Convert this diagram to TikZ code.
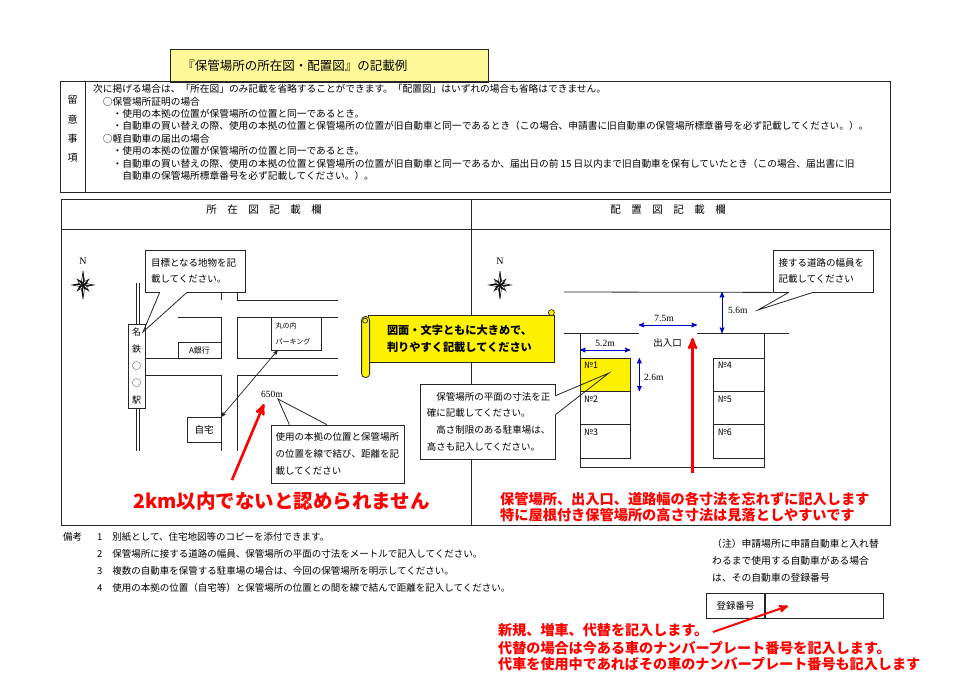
\documentclass[tikz,border=0pt]{standalone}
\usepackage{fontspec}
\setmainfont{Noto Sans CJK JP}
\newfontfamily\romfont{Liberation Serif}
\usetikzlibrary{positioning,calc,arrows}

% star for the north mark
\newcommand{\compassrose}[1]{%
  \begin{scope}[shift={#1}]
    \foreach \dir/\spike in {90/14,270/14,0/11,180/11,45/8,135/8,225/8,315/8}{
      \filldraw[fill=black,line width=0.35pt] (0,0) -- (\dir:\spike) -- (\dir+30:3.4) -- cycle;
      \filldraw[fill=white,line width=0.35pt] (0,0) -- (\dir:\spike) -- (\dir-30:3.4) -- cycle;
    }
  \end{scope}}

% pointer of a callout box: base points, tip
\newcommand{\calloutptr}[3]{%
  \draw[white,line width=1.6pt] #1 -- #2;
  \draw[road] #1 -- #3 -- #2;}

\tikzset{
  frame/.style={draw=black!85,line width=0.9pt},
  road/.style={draw=black!85,line width=0.8pt},
  memo/.style={draw=black!85,fill=white,line width=0.8pt},
  callout/.style={memo,align=left,inner ysep=0pt,font=\fontsize{9.5}{16.7}\selectfont},
  txt/.style={font=\fontsize{9.5}{16.7}\selectfont,align=left,inner sep=0pt,anchor=north west},
  slot/.style={draw=black!85,line width=0.8pt,minimum width=50.4pt,minimum height=33.3pt,inner sep=0pt,outer sep=0pt},
  slotno/.style={anchor=north west,inner sep=4pt,font=\fontsize{9}{10}\selectfont},
  dim/.style={<->,draw=blue!80!black,line width=1pt},
  dimlabel/.style={font=\romfont\fontsize{9.5}{10}\selectfont,inner sep=0pt},
  redarrow/.style={->,draw=red,line width=2.6pt},
  redtxt/.style={text=red,font=\bfseries\fontsize{14.2}{16}\selectfont,inner sep=0pt,align=left},
}

\begin{document}
\begin{tikzpicture}[x=1pt,y=-1pt,>=stealth']
\useasboundingbox (0,0) rectangle (960,678);

% title and notes
\node[frame,fill=yellow!40,anchor=north west,minimum width=318pt,minimum height=33pt,
  text width=294pt,inner xsep=12pt,align=left,font=\fontsize{12.5}{14}\selectfont] (title) at (170,49)
  {『保管場所の所在図・配置図』の記載例};
\node[frame,anchor=north west,minimum width=830pt,minimum height=111pt] (notebox) at (60,81) {};
\draw[frame] ($(notebox.north west)+(25,0)$) -- ($(notebox.south west)+(25,0)$);
\node[font=\fontsize{10}{19.3}\selectfont,align=center,inner sep=0pt] (caution) at (72.5,129) {留\\意\\事\\項};
\node[txt,font=\fontsize{9.7}{12.4}\selectfont] (notetext) at (93,84.3)
  {次に掲げる場合は、「所在図」のみ記載を省略することができます。「配置図」はいずれの場合も省略はできません。\\
   \hspace*{1em}○保管場所証明の場合\\
   \hspace*{2em}・使用の本拠の位置が保管場所の位置と同一であるとき。\\
   \hspace*{2em}・自動車の買い替えの際、使用の本拠の位置と保管場所の位置が旧自動車と同一であるとき（この場合、申請書に旧自動車の保管場所標章番号を必ず記載してください。）。\\
   \hspace*{1em}○軽自動車の届出の場合\\
   \hspace*{2em}・使用の本拠の位置が保管場所の位置と同一であるとき。\\
   \hspace*{2em}・自動車の買い替えの際、使用の本拠の位置と保管場所の位置が旧自動車と同一であるか、届出日の前 15 日以内まで旧自動車を保有していたとき（この場合、届出書に旧\\
   \hspace*{3em}自動車の保管場所標章番号を必ず記載してください。）。};

% the two panels
\node[frame,anchor=north west,minimum width=829pt,minimum height=326pt] (panel) at (61,199) {};
\draw[frame] ($(panel.north west)+(0,30)$) -- ($(panel.north east)+(0,30)$);
\draw[frame] (471,199) -- (471,525);
\node[font=\fontsize{10.5}{12}\selectfont] (maphead) at (264,210) {所　在　図　記　載　欄};
\node[font=\fontsize{10.5}{12}\selectfont] (planhead) at (668,210) {配　置　図　記　載　欄};

% location map
\node[font=\romfont\fontsize{10}{11}\selectfont] (northA) at (83,261) {N};
\compassrose{(83,285)}
\draw[road,line width=0.7pt] (136,283) -- (136,451) (139.5,283) -- (139.5,451);
\node[memo,minimum width=17pt,minimum height=84pt,inner sep=0pt,align=center,font=\fontsize{9}{16.8}\selectfont] (station) at (136.5,366) {名\\鉄\\○\\○\\駅};
\draw[road] (221,292) -- (221,300);
\draw[road] (237,292) -- (237,300) -- (338,300);
\draw[road] (178,317) -- (221,317) -- (221,358) -- (145,358);
\draw[road] (338,317) -- (237,317) -- (237,358) -- (338,358);
\draw[road] (145,375) -- (221,375) -- (221,451);
\draw[road] (338,375) -- (237,375) -- (237,451);
\node[memo,minimum width=43pt,minimum height=16pt,inner sep=0pt,font=\fontsize{8}{9}\selectfont] (bank) at (199.5,350) {A銀行};
\node[memo,minimum width=50pt,minimum height=33pt,text width=41pt,inner xsep=4.5pt,inner ysep=0pt,align=left,font=\fontsize{7}{16}\selectfont] (parking) at (296,333.5) {丸の内\\パーキング};
\node[memo,minimum width=34pt,minimum height=25pt,inner sep=0pt,font=\fontsize{9.5}{10}\selectfont] (home) at (204,429.5) {自宅};
\draw[<->,black!85,line width=0.7pt] (home.north east) -- ($(parking.south west)+(7,0)$);
\node[dimlabel] (dist) at (272,394) {650m};

\node[callout,minimum width=100pt,minimum height=42pt,text width=88pt,inner xsep=6pt] (landmark) at (195,271)
  {目標となる地物を記\\載してください。};
\coordinate (landtip) at (143,332);
\calloutptr{($(landmark.south west)!0.15!(landmark.south east)$)}{($(landmark.south west)!0.42!(landmark.south east)$)}{(landtip)}
\node[callout,minimum width=133pt,minimum height=58pt,text width=124pt,inner xsep=4.5pt] (linkbox) at (337.5,454)
  {使用の本拠の位置と保管場所\\の位置を線で結び、距離を記\\載してください};
\coordinate (disttip) at (278,399);
\calloutptr{($(linkbox.north west)!0.14!(linkbox.north east)$)}{($(linkbox.north west)!0.42!(linkbox.north east)$)}{(disttip)}

\coordinate (warntail) at (232,480);
\draw[redarrow] (warntail) -- (264,404);
\node[redtxt,font=\bfseries\fontsize{19.5}{21}\selectfont,anchor=west] (warnL) at (133,501) {2km以内でないと認められません};

% scroll banner
\node[draw=black!85,fill=yellow,line width=0.8pt,minimum width=186pt,minimum height=47pt,text width=148pt,
  inner xsep=19pt,align=left,font=\bfseries\fontsize{11.2}{17}\selectfont] (scroll) at (461,338.5)
  {図面・文字ともに大きめで、\\判りやすく記載してください};
\draw[draw=black!85,fill=yellow,line width=0.8pt,rounded corners=3.5pt] ($(scroll.north west)+(-6,2)$) rectangle ($(scroll.south west)+(2,15)$);
\draw[draw=black!85,fill=yellow,line width=0.7pt] ($(scroll.north west)+(-2.5,6)$) circle (2.5pt);
\draw[draw=black!85,fill=yellow,line width=0.7pt] ($(scroll.north east)+(-3,-2)$) circle (3pt);

% layout plan
\node[font=\romfont\fontsize{10}{11}\selectfont] (northB) at (500,261) {N};
\compassrose{(500,285)}
\node[callout,minimum width=100pt,minimum height=42pt,text width=89pt,inner xsep=5.5pt] (roadnote) at (823,271)
  {接する道路の幅員を\\記載してください};
\coordinate (roadtip) at (758,310);
\calloutptr{($(roadnote.south west)!0.16!(roadnote.south east)$)}{($(roadnote.south west)!0.40!(roadnote.south east)$)}{(roadtip)}
\draw[road] (563.5,292) -- (roadnote.south west);
\coordinate (gateL) at (638.6,333);
\coordinate (gateR) at (697,333);
\draw[road] (563.5,333) -- (gateL);
\draw[road] (gateR) -- (789,333);
\draw[road] (580,333) -- (580,467) -- (764,467) -- (764,333);

\node[slot,fill=yellow,anchor=north west,label={[slotno]north west:№1}] (s1) at (580,358) {};
\node[slot,below=0pt of s1,label={[slotno]north west:№2}] (s2) {};
\node[slot,below=0pt of s2,label={[slotno]north west:№3}] (s3) {};
\node[slot,anchor=north west,label={[slotno]north west:№4}] (s4) at (713.6,358) {};
\node[slot,below=0pt of s4,label={[slotno]north west:№5}] (s5) {};
\node[slot,below=0pt of s5,label={[slotno]north west:№6}] (s6) {};

\draw[dim] ($(gateL)+(0,-8)$) -- ($(gateR)+(0,-8)$);
\node[dimlabel] (gatewidth) at (664,318) {7.5m};
\draw[dim] (722,292) -- (722,333);
\node[dimlabel,anchor=west] (roadwidth) at (728,310) {5.6m};
\draw[dim] ($(s1.north west)+(0,-8)$) -- ($(s1.north east)+(0,-8)$);
\node[dimlabel] (slotwidth) at (605,343) {5.2m};
\draw[dim] ($(s1.north east)+(9,0)$) -- ($(s1.south east)+(9,0)$);
\node[dimlabel,anchor=west] (slotdepth) at (644,377) {2.6m};
\node[font=\fontsize{9.5}{10}\selectfont] (gate) at (667.5,343) {出入口};

\node[callout,minimum width=134.4pt,minimum height=75pt,text width=122pt,inner xsep=6.2pt] (sizenote) at (487.8,421.5)
  {　保管場所の平面の寸法を正\\確に記載してください。\\　高さ制限のある駐車場は、\\高さも記入してください。};
\coordinate (sizetip) at (609,373);
\calloutptr{($(sizenote.north east)!0.16!(sizenote.south east)$)}{($(sizenote.north east)!0.41!(sizenote.south east)$)}{(sizetip)}

\coordinate (gatetail) at (692.6,473);
\coordinate (gatetip) at (692.6,338);
\draw[redarrow] (gatetail) -- (gatetip);
\node[redtxt,anchor=west] (warnR) at (500,507)
  {保管場所、出入口、道路幅の各寸法を忘れずに記入します\\特に屋根付き保管場所の高さ寸法は見落としやすいです};

% remarks
\node[anchor=north west,inner sep=0pt,font=\fontsize{9.5}{16.7}\selectfont] (remarks) at (63,529)
  {\begin{tabular}{@{}l@{\hspace{15pt}}l@{\hspace{10pt}}l@{}}
   備考 & 1 & 別紙として、住宅地図等のコピーを添付できます。\\
        & 2 & 保管場所に接する道路の幅員、保管場所の平面の寸法をメートルで記入してください。\\
        & 3 & 複数の自動車を保管する駐車場の場合は、今回の保管場所を明示してください。\\
        & 4 & 使用の本拠の位置（自宅等）と保管場所の位置との間を線で結んで距離を記入してください。
   \end{tabular}};
\node[txt,font=\fontsize{9.8}{17}\selectfont] (regnote) at (712,538.5)
  {（注）申請場所に申請自動車と入れ替\\わるまで使用する自動車がある場合\\は、その自動車の登録番号};
\node[draw=black!85,line width=1pt,anchor=north west,minimum width=58pt,minimum height=25pt,inner sep=0pt,font=\fontsize{9.5}{10}\selectfont] (regl) at (706,593) {登録番号};
\node[draw=black!85,line width=1pt,minimum width=118pt,minimum height=25pt,right=0pt of regl] (regv) {};

\coordinate (regtail) at (713,632);
\draw[redarrow,line width=2pt] (regtail) -- ($(regv.west)+(23,0)$);
\node[redtxt,font=\bfseries\fontsize{14.1}{16}\selectfont,anchor=west] (newreg) at (498,630) {新規、増車、代替を記入します。};
\node[redtxt,font=\bfseries\fontsize{14.1}{16}\selectfont,anchor=west] (plate) at (498,656)
  {代替の場合は今ある車のナンバープレート番号を記入します。\\代車を使用中であればその車のナンバープレート番号も記入します};
\end{tikzpicture}
\end{document}
